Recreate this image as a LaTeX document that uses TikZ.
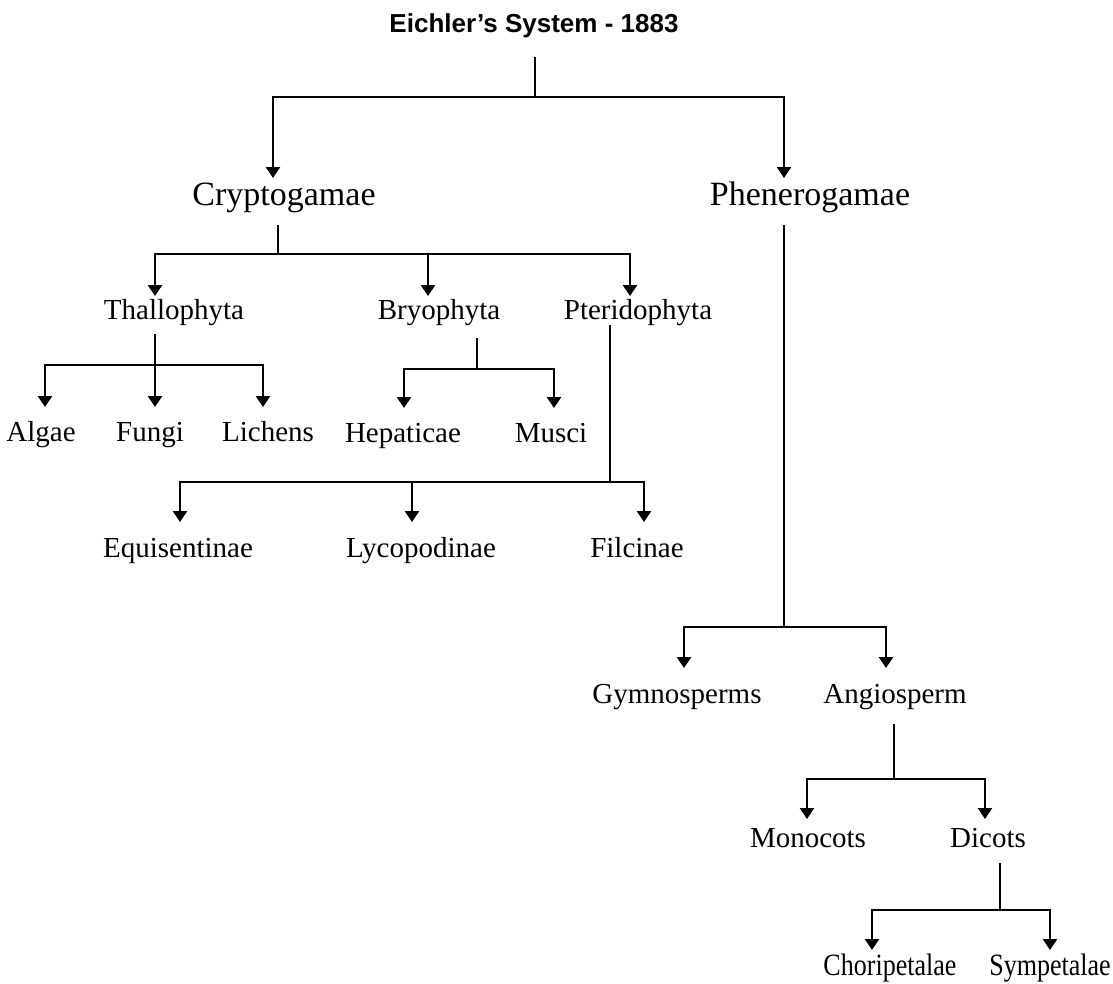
\documentclass[tikz,border=0pt]{standalone}
\usepackage{graphicx}
\usepackage{fontspec}
\setmainfont{Liberation Serif}
\newfontfamily\titlefont{Liberation Sans}
\usetikzlibrary{arrows.meta}
\begin{document}
\begin{tikzpicture}[x=1pt,y=-1pt,
  line/.style={line width=2.7pt},
  arr/.style={line width=2.7pt,-{Triangle[width=14pt,length=11pt]}},
  ttl/.style={anchor=base,inner sep=0pt,font=\titlefont\bfseries\fontsize{26}{30}\selectfont},
  big/.style={anchor=base,inner sep=0pt,font=\fontsize{34}{40}\selectfont},
  mid/.style={anchor=base,inner sep=0pt,font=\fontsize{29}{34}\selectfont},
  small/.style={anchor=base,inner sep=0pt,font=\fontsize{31}{36}\selectfont},
]
\fill[white] (0,0) rectangle (1113,983);
\useasboundingbox (0,0) rectangle (1113,983);

% text nodes
\node[ttl] (title) at (534,32) {Eichler’s System - 1883};
\node[big] (cry) at (284,205) {Cryptogamae};
\node[big] (phe) at (810,205) {Phenerogamae};
\node[mid] (tha) at (174,319) {Thallophyta};
\node[mid] (bry) at (439,319) {Bryophyta};
\node[mid] (pte) at (638,319) {Pteridophyta};
\node[mid] (alg) at (41,441) {Algae};
\node[mid] (fun) at (150,441) {Fungi};
\node[mid] (lic) at (268,441) {Lichens};
\node[mid] (hep) at (403,442) {Hepaticae};
\node[mid] (mus) at (551,442) {Musci};
\node[mid] (equ) at (178,557) {Equisentinae};
\node[mid] (lyc) at (421,557) {Lycopodinae};
\node[mid] (fil) at (637,557) {Filcinae};
\node[mid] (gym) at (677,703) {Gymnosperms};
\node[mid] (ang) at (895,703) {Angiosperm};
\node[mid] (mon) at (808,847) {Monocots};
\node[mid] (dic) at (988,847) {Dicots};
\node[small] (cho) at (890,975) {\scalebox{0.84}[1]{Choripetalae}};
\node[small] (sym) at (1050,975) {\scalebox{0.84}[1]{Sympetalae}};

% junction and tip coordinates
\coordinate (s0) at (535,57);  \coordinate (j0) at (535,97);
\coordinate (tcry) at (273,178); \coordinate (tphe) at (784,178);
\coordinate (s1) at (278,225); \coordinate (j1) at (278,254);
\coordinate (ttha) at (155,296); \coordinate (tbry) at (428,296); \coordinate (tpte) at (630,296);
\coordinate (s2) at (155,334); \coordinate (j2) at (155,365);
\coordinate (talg) at (45,407); \coordinate (tfun) at (155,407); \coordinate (tlic) at (263,407);
\coordinate (s3) at (477,338); \coordinate (j3) at (477,369);
\coordinate (thep) at (404,408); \coordinate (tmus) at (554,408);
\coordinate (s4) at (610,325); \coordinate (j4) at (610,482);
\coordinate (tequ) at (180,522); \coordinate (tlyc) at (412,522); \coordinate (tfil) at (644,522);
\coordinate (s5) at (784,225); \coordinate (j5) at (784,627);
\coordinate (tgym) at (684,668); \coordinate (tang) at (886,668);
\coordinate (s6) at (894,724); \coordinate (j6) at (894,779);
\coordinate (tmon) at (807,819); \coordinate (tdic) at (985,819);
\coordinate (s7) at (1000,863); \coordinate (j7) at (1000,910);
\coordinate (tcho) at (872,950); \coordinate (tsym) at (1050,950);

% connectors
\draw[line] (s0) -- (j0);
\draw[arr] (j0) -| (tcry);
\draw[arr] (j0) -| (tphe);

\draw[line] (s1) -- (j1);
\draw[arr] (j1) -| (ttha);
\draw[arr] (j1) -| (tpte);
\draw[arr] (tbry |- j1) -- (tbry);

\draw[arr] (s2) -- (tfun);
\draw[arr] (j2) -| (talg);
\draw[arr] (j2) -| (tlic);

\draw[line] (s3) -- (j3);
\draw[arr] (j3) -| (thep);
\draw[arr] (j3) -| (tmus);

\draw[line] (s4) -- (j4);
\draw[arr] (j4) -| (tequ);
\draw[arr] (j4) -| (tfil);
\draw[arr] (tlyc |- j4) -- (tlyc);

\draw[line] (s5) -- (j5);
\draw[arr] (j5) -| (tgym);
\draw[arr] (j5) -| (tang);

\draw[line] (s6) -- (j6);
\draw[arr] (j6) -| (tmon);
\draw[arr] (j6) -| (tdic);

\draw[line] (s7) -- (j7);
\draw[arr] (j7) -| (tcho);
\draw[arr] (j7) -| (tsym);
\end{tikzpicture}
\end{document}
